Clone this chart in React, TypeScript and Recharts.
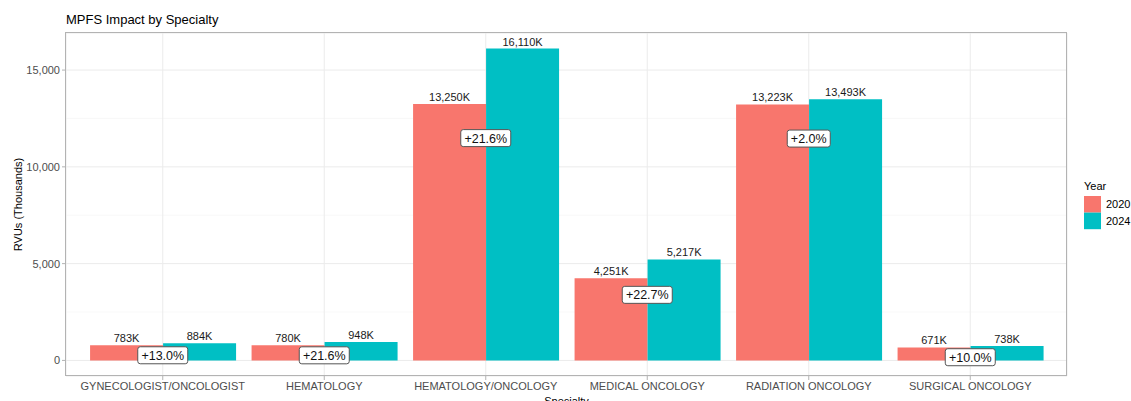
import React from "react"
import {
  ComposedChart,
  Bar,
  Line,
  XAxis,
  YAxis,
  CartesianGrid,
  LabelList,
} from "recharts"

const specialties = [
  "GYNECOLOGIST/ONCOLOGIST",
  "HEMATOLOGY",
  "HEMATOLOGY/ONCOLOGY",
  "MEDICAL ONCOLOGY",
  "RADIATION ONCOLOGY",
  "SURGICAL ONCOLOGY",
]
const rvu2020 = [783, 780, 13250, 4251, 13223, 671]
const rvu2024 = [884, 948, 16110, 5217, 13493, 738]
const changeLabels = ["+13.0%", "+21.6%", "+21.6%", "+22.7%", "+2.0%", "+10.0%"]
const years = ["2020", "2024"]
const yTicks = [0, 5000, 10000, 15000]
const yMinorTicks = [2500, 7500, 12500]

const COLORS = ["#F8766D", "#00BFC4"]
const FONT = "'Liberation Sans', Arial, Helvetica, sans-serif"

const data = specialties.map((s, i) => ({
  specialty: s,
  y2020: rvu2020[i],
  y2024: rvu2024[i],
  // change box hangs just under 90% of the 2020 bar
  labelY: rvu2020[i] * 0.9,
  change: changeLabels[i],
}))

// ggplot-style 5% expansion on the y range
const yMax = Math.max(...rvu2020, ...rvu2024)
const yPad = yMax * 0.05
const yDomain = [-yPad, yMax + yPad]

const fmtK = (v: any) => `${Number(v).toLocaleString("en-US")}K`

const ChangeBox = (props: any) => {
  const { cx, cy, payload, index } = props
  if (cx == null || cy == null) return <g key={`chg-${index}`} />
  const label: string = payload.change
  const w = label.length * 7 + 8
  return (
    <g key={`chg-${index}`}>
      <rect
        x={cx - w / 2}
        y={cy}
        width={w}
        height={17}
        rx={2.5}
        ry={2.5}
        fill="#fff"
        stroke="#555"
        strokeWidth={1}
      />
      <text
        x={cx}
        y={cy + 13}
        textAnchor="middle"
        fontSize={12.5}
        fill="#111"
        fontFamily={FONT}
      >
        {label}
      </text>
    </g>
  )
}

export default function App() {
  return (
    <div
      style={{
        position: "absolute",
        left: 0,
        top: 0,
        width: 1131,
        height: 401,
        fontFamily: FONT,
        background: "#fff",
      }}
    >
      <ComposedChart
        width={1131}
        height={401}
        data={data}
        margin={{ top: 33, right: 64, bottom: 0, left: 0 }}
        barGap={0}
        barCategoryGap="5%"
      >
        <CartesianGrid
          horizontalValues={yMinorTicks}
          vertical={false}
          stroke="#F3F3F3"
          strokeWidth={0.6}
        />
        <CartesianGrid stroke="#EBEBEB" strokeWidth={1} />
        <XAxis
          dataKey="specialty"
          padding={{ left: 16, right: 16 }}
          height={25}
          interval={0}
          axisLine={false}
          tickSize={4}
          tickMargin={2}
          tickLine={{ stroke: "#B3B3B3" }}
          tick={{ fill: "#4D4D4D", fontSize: 11 }}
        />
        <YAxis
          type="number"
          width={66}
          domain={yDomain}
          ticks={yTicks}
          allowDataOverflow
          axisLine={false}
          tickSize={4}
          tickMargin={2}
          tickLine={{ stroke: "#B3B3B3" }}
          tick={{ fill: "#4D4D4D", fontSize: 11 }}
          tickFormatter={(v: number) => v.toLocaleString("en-US")}
        />
        <Bar dataKey="y2020" fill={COLORS[0]} isAnimationActive={false}>
          <LabelList
            dataKey="y2020"
            position="top"
            offset={3}
            formatter={fmtK}
            fill="#1A1A1A"
            fontSize={11}
          />
        </Bar>
        <Bar dataKey="y2024" fill={COLORS[1]} isAnimationActive={false}>
          <LabelList
            dataKey="y2024"
            position="top"
            offset={3}
            formatter={fmtK}
            fill="#1A1A1A"
            fontSize={11}
          />
        </Bar>
        <Line
          dataKey="labelY"
          stroke="none"
          dot={ChangeBox}
          activeDot={false}
          legendType="none"
          isAnimationActive={false}
        />
      </ComposedChart>

      <svg
        width={1131}
        height={401}
        style={{ position: "absolute", left: 0, top: 0, pointerEvents: "none" }}
        fontFamily={FONT}
      >
        <text x={66} y={24} fontSize={13} fill="#000">
          MPFS Impact by Specialty
        </text>
        <rect
          x={65.5}
          y={32.5}
          width={1001}
          height={343}
          fill="none"
          stroke="#B3B3B3"
          strokeWidth={1}
        />
        <text
          transform="translate(22,204.5) rotate(-90)"
          textAnchor="middle"
          fontSize={11}
          fill="#000"
        >
          RVUs (Thousands)
        </text>
        <text x={566.5} y={405} textAnchor="middle" fontSize={11} fill="#000">
          Specialty
        </text>
        <text x={1084} y={189.5} fontSize={11} fill="#000">
          Year
        </text>
        {years.map((yr, i) => (
          <g key={yr}>
            <rect x={1084} y={196 + i * 16.6} width={17} height={16.6} fill={COLORS[i]} />
            <text x={1106} y={208.3 + i * 16.6} fontSize={11} fill="#000">
              {yr}
            </text>
          </g>
        ))}
      </svg>
    </div>
  )
}
